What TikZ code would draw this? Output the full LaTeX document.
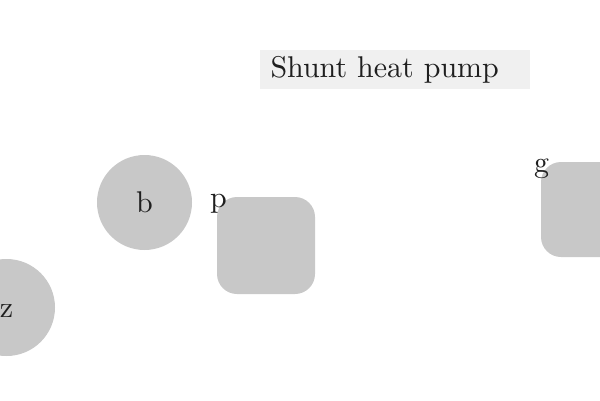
\documentclass[tikz,border=0pt]{standalone}
\usepackage{fontspec}
\setmainfont{lmroman10}[Extension=.otf, UprightFont=*-regular, BoldFont=*-bold]
\definecolor{shapegray}{HTML}{C8C8C8}
\definecolor{titlegray}{HTML}{F0F0F0}
\begin{document}
\begin{tikzpicture}[x=1pt,y=-1pt,
  every node/.style={font=\fontsize{30}{36}\selectfont, text=black!88},
  roundshape/.style={circle, fill=shapegray, inner sep=0pt, text height=20.4pt, text depth=0pt},
  roundbox/.style={rectangle, rounded corners=20pt, fill=shapegray, inner sep=0pt},
  tag/.style={anchor=base, inner sep=0pt},
  titlebox/.style={rectangle, fill=titlegray, minimum width=270pt, minimum height=39pt,
    inner xsep=10.5pt, text width=249pt, align=left, text height=20.8pt, text depth=4.8pt}
]
\useasboundingbox (0,0) rectangle (600,400);
\node[titlebox] (title) at (395,69.5) {Shunt heat pump};
\node[roundshape, minimum size=95pt] (b) at (144.5,202.5) {b};
\node[roundshape, minimum size=97pt] (z) at (6.5,307.5) {z};
\node[roundbox, minimum width=98pt, minimum height=97pt] (p) at (266,245.5) {};
\node[roundbox, minimum width=98pt, minimum height=95pt] (g) at (590,209.5) {};
\node[tag] (plabel) at (218.5,207.4) {p};
\node[tag] (glabel) at (541.5,172.4) {g};
\end{tikzpicture}
\end{document}
